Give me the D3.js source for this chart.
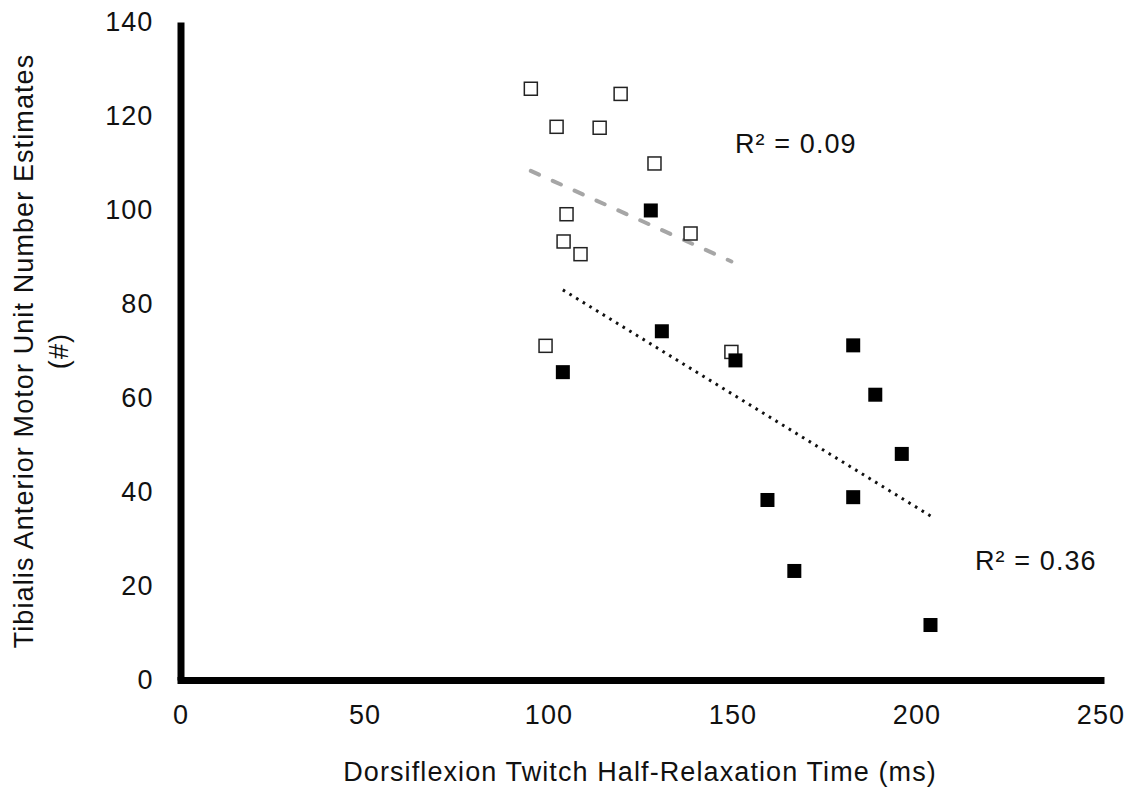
<!DOCTYPE html>
<html>
<head>
<meta charset="utf-8">
<script src="https://cdn.jsdelivr.net/npm/d3@7"></script>
<style>
  body { margin: 0; background: #fff; }
  text { font-family: "Liberation Sans", Arial, sans-serif; fill: #111; letter-spacing: 1.1px; }
</style>
</head>
<body>
<svg id="chart"></svg>
<script>
// open squares
const openX = [95.2, 119.6, 102.2, 113.9, 128.8, 104.9, 104.1, 108.7, 138.6, 99.2, 149.7];
const openY = [125.8, 124.7, 117.7, 117.5, 109.9, 99.1, 93.3, 90.6, 95.0, 71.1, 69.8];
// filled squares
const fillX = [127.8, 130.8, 103.9, 150.8, 182.8, 188.8, 196.0, 159.5, 182.8, 166.8, 203.8];
const fillY = [99.9, 74.2, 65.5, 68.0, 71.2, 60.7, 48.1, 38.3, 38.9, 23.2, 11.7];

const xTicks = [0, 50, 100, 150, 200, 250];
const yTicks = [0, 20, 40, 60, 80, 100, 120, 140];
const r2Labels = ["R² = 0.09", "R² = 0.36"];

const width = 1139, height = 791;
const fontSize = '27px';

let svg = d3.select('#chart')
    .attr('width', width)
    .attr('height', height);

let xScale = d3.scaleLinear().domain([0, 250]).range([180.5, 1100.5]);
let yScale = d3.scaleLinear().domain([0, 140]).range([680, 22]);

// axes
let xAxis = d3.axisBottom(xScale).tickValues(xTicks).tickSize(0).tickPadding(25).tickSizeOuter(0);
let yAxis = d3.axisLeft(yScale).tickValues(yTicks).tickSize(0).tickPadding(27).tickSizeOuter(0);

let gy = svg.append('g')
    .attr('transform', `translate(${xScale(0)},0)`)
    .call(yAxis);
gy.select('.domain').attr('stroke', '#000').attr('stroke-width', 7);

let gx = svg.append('g')
    .attr('transform', `translate(0,${yScale(0)})`)
    .call(xAxis);
gx.select('.domain').attr('stroke', '#000').attr('stroke-width', 7).attr('stroke-linecap', 'square');

svg.selectAll('.tick text')
    .style('font-size', fontSize)
    .attr('fill', '#111')
    .style('font-family', '"Liberation Sans", Arial, sans-serif');

// trendlines (least squares over each series' x range)
const fit = (xs, ys) => {
  let mx = d3.mean(xs), my = d3.mean(ys);
  let sxy = d3.sum(xs, (x, i) => (x - mx) * (ys[i] - my));
  let sxx = d3.sum(xs, x => (x - mx) * (x - mx));
  let b = sxy / sxx;
  let a = my - b * mx;
  let ext = d3.extent(xs);
  return ext.map(x => [x, a + b * x]);
};

let line = d3.line().x(d => xScale(d[0])).y(d => yScale(d[1]));

svg.append('path')
    .attr('d', line(fit(openX, openY)))
    .attr('fill', 'none')
    .attr('stroke', '#a6a6a6')
    .attr('stroke-width', 4)
    .attr('stroke-linecap', 'round')
    .attr('stroke-dasharray', '9 15');

svg.append('path')
    .attr('d', line(fit(fillX, fillY)))
    .attr('fill', 'none')
    .attr('stroke', '#111')
    .attr('stroke-width', 3)
    .attr('stroke-dasharray', '2.6 5.2');

// markers
const s = 13;
svg.selectAll('rect.open')
    .data(openX.map((x, i) => [x, openY[i]]))
    .enter()
    .append('rect')
    .attr('class', 'open')
    .attr('x', d => xScale(d[0]) - s / 2)
    .attr('y', d => yScale(d[1]) - s / 2)
    .attr('width', s)
    .attr('height', s)
    .attr('fill', '#fff')
    .attr('stroke', '#222')
    .attr('stroke-width', 1.5);

svg.selectAll('rect.fill')
    .data(fillX.map((x, i) => [x, fillY[i]]))
    .enter()
    .append('rect')
    .attr('class', 'fill')
    .attr('x', d => xScale(d[0]) - 7)
    .attr('y', d => yScale(d[1]) - 7)
    .attr('width', 14)
    .attr('height', 14)
    .attr('fill', '#000');

// R² labels
svg.append('text')
    .attr('x', 735).attr('y', 153)
    .style('font-size', fontSize)
    .text(r2Labels[0]);

svg.append('text')
    .attr('x', 975).attr('y', 570)
    .style('font-size', fontSize)
    .text(r2Labels[1]);

// axis titles
svg.append('text')
    .attr('x', 640).attr('y', 781)
    .attr('text-anchor', 'middle')
    .style('font-size', fontSize)
    .text('Dorsiflexion Twitch Half-Relaxation Time (ms)');

let yt = svg.append('text')
    .attr('transform', 'translate(33,351) rotate(-90)')
    .attr('text-anchor', 'middle')
    .style('font-size', fontSize);
yt.append('tspan').attr('x', 0).attr('y', 0).text('Tibialis Anterior Motor Unit Number Estimates');
yt.append('tspan').attr('x', 0).attr('y', 35).text('(#)');
</script>
</body>
</html>
